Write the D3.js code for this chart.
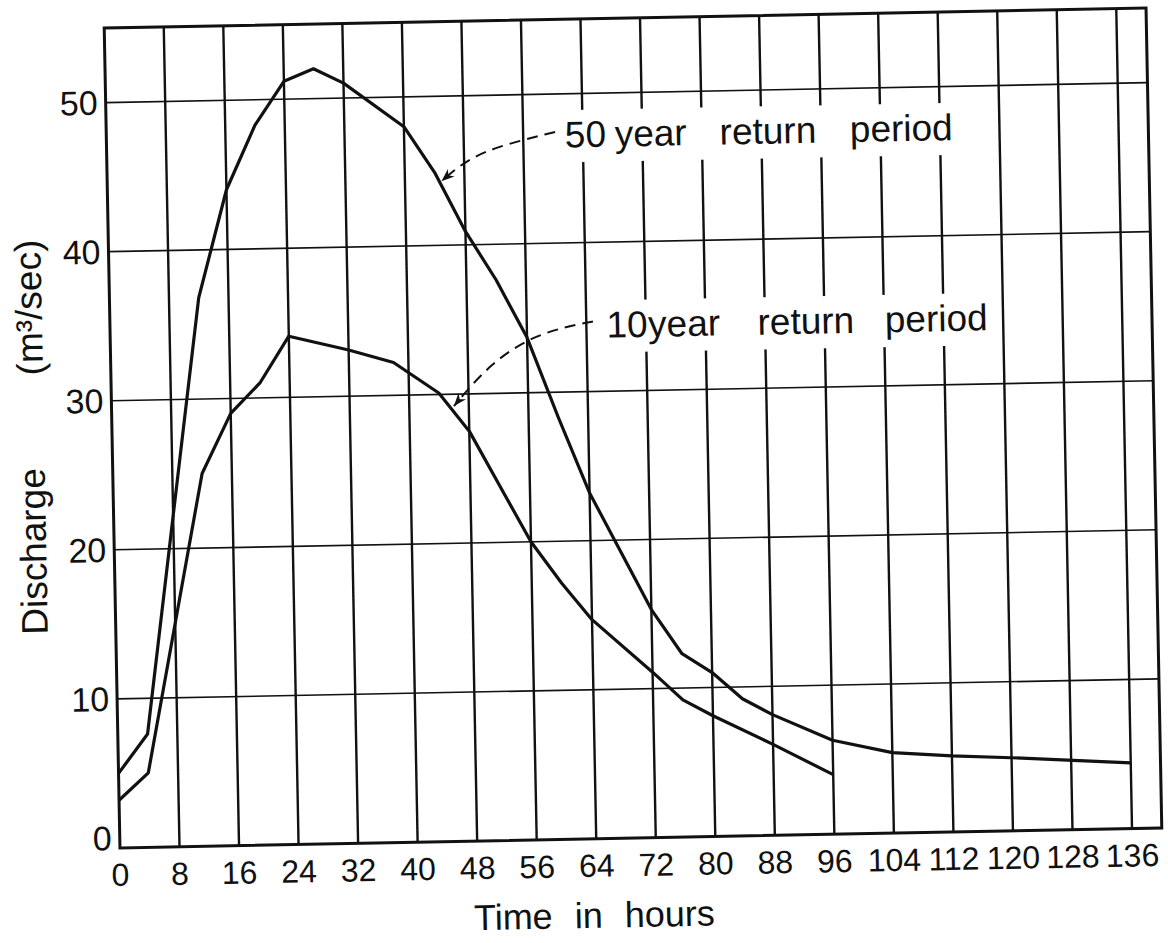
<!DOCTYPE html>
<html>
<head>
<meta charset="utf-8">
<script src="https://cdn.jsdelivr.net/npm/d3@7"></script>
<style>
  body { margin: 0; background: #fff; }
  text { font-family: "Liberation Sans", Arial, sans-serif; fill: #111; }
</style>
</head>
<body>
<svg id="chart" width="1168" height="943"></svg>
<script>
// values (hours, m3/sec)
const hours50 = [0, 4, 12, 16, 20, 24, 28, 32, 40, 44, 48, 52, 56, 60, 64, 72, 76, 80, 84, 88, 96, 104, 112, 120, 136]
const flow50 = [5, 7.6, 36.8, 44, 48.3, 51.2, 52, 51, 48, 44.9, 40.9, 37.6, 33.7, 28.3, 23.2, 15.3, 12.3, 11, 9.2, 8.1, 6.3, 5.4, 5.1, 4.9, 4.4]

const hours10 = [0, 4, 8, 12, 16, 20, 24, 32, 38, 44, 48, 56, 60, 64, 72, 76, 80, 88, 96]
const flow10 = [3.2, 5, 15, 25, 29, 31, 34.1, 33.1, 32.2, 30.1, 27.5, 20, 17.2, 14.7, 11.1, 9.2, 8.1, 6.1, 4]

const xTicks = d3.range(0, 137, 8)
const yTicks = [0, 10, 20, 30, 40, 50]

const plotLeft = 112, plotRight = 1154, plotTop = 18, plotBottom = 838

const x = d3.scaleLinear().domain([0, 140]).range([plotLeft, plotRight])
const y = d3.scaleLinear().domain([0, 55]).range([plotBottom, plotTop])

const svg = d3.select("#chart")

svg.append("defs").append("marker")
    .attr("id", "arrow")
    .attr("viewBox", "-14 -6 16 12")
    .attr("markerWidth", 16).attr("markerHeight", 12)
    .attr("markerUnits", "userSpaceOnUse")
    .attr("refX", 0).attr("refY", 0)
    .attr("orient", "auto")
  .append("path")
    .attr("d", "M0,0 L-13,-5 L-9,0 L-13,5 Z")
    .attr("fill", "#111")

// the scan is slightly tilted
const g = svg.append("g").attr("transform", "rotate(-1.1, 633, 428)")

// grid
g.append("g").selectAll("line")
    .data(yTicks.filter(d => d > 0))
    .join("line")
    .attr("x1", plotLeft).attr("x2", plotRight)
    .attr("y1", d => y(d)).attr("y2", d => y(d))
    .attr("stroke", "#111").attr("stroke-width", 1.6)

g.append("g").selectAll("line")
    .data(xTicks.filter(d => d > 0))
    .join("line")
    .attr("x1", d => x(d)).attr("x2", d => x(d))
    .attr("y1", plotTop).attr("y2", plotBottom)
    .attr("stroke", "#111").attr("stroke-width", 2.4)

// frame
g.append("rect")
    .attr("x", plotLeft).attr("y", plotTop)
    .attr("width", plotRight - plotLeft).attr("height", plotBottom - plotTop)
    .attr("fill", "none").attr("stroke", "#111").attr("stroke-width", 3)

// tick labels
g.append("g").selectAll("text")
    .data(xTicks)
    .join("text")
    .attr("x", d => x(d)).attr("y", plotBottom + 38)
    .attr("text-anchor", "middle")
    .attr("font-size", 32)
    .text(d => d)

g.append("g").selectAll("text")
    .data(yTicks)
    .join("text")
    .attr("x", plotLeft - 8).attr("y", d => y(d) + (d === 0 ? 2 : 12))
    .attr("text-anchor", "end")
    .attr("font-size", 34)
    .text(d => d)

// axis titles
g.append("text")
    .attr("x", 585).attr("y", 927)
    .attr("text-anchor", "middle")
    .attr("font-size", 36)
    .attr("word-spacing", 12)
    .text("Time in hours")

g.append("text")
    .attr("transform", "translate(44,540) rotate(-90)")
    .attr("text-anchor", "middle")
    .attr("font-size", 37)
    .text("Discharge")

g.append("text")
    .attr("transform", "translate(44,296) rotate(-90)")
    .attr("text-anchor", "middle")
    .attr("font-size", 37)
    .text("(m³/sec)")

// curves
const line = d3.line().x(d => x(d[0])).y(d => y(d[1]))
const series = [d3.zip(hours50, flow50), d3.zip(hours10, flow10)]
g.append("g").selectAll("path")
    .data(series)
    .join("path")
    .attr("d", line)
    .attr("fill", "none")
    .attr("stroke", "#111")
    .attr("stroke-width", 3.2)
    .attr("stroke-linejoin", "round")

// annotations: white box that breaks the grid, words, dashed leader with arrow
const notes = [
    { box: [57.6, 114.6, 48.9, 45.4], base: 46.4, words: [["50", 61.6], ["year", 68.3], ["return", 82.4], ["period", 99.9]],
      leader: [[60.3, 47.45], [51.9, 46.5], [47.8, 45.5], [44.9, 44.3]] },
    { box: [65.6, 118.9, 36.1, 32.6], base: 33.6, words: [["10", 66.7], ["year", 72.3], ["return", 87], ["period", 104.1]],
      leader: [[64.9, 34.7], [57.3, 34.0], [50.9, 32.0], [46.0, 29.2]] }
]

const ng = g.append("g")
notes.forEach(n => {
    ng.append("rect")
        .attr("x", x(n.box[0])).attr("y", y(n.box[2]))
        .attr("width", x(n.box[1]) - x(n.box[0]))
        .attr("height", y(n.box[3]) - y(n.box[2]))
        .attr("fill", "#fff")
    ng.selectAll(null)
        .data(n.words)
        .join("text")
        .attr("x", d => x(d[1])).attr("y", y(n.base))
        .attr("font-size", 37)
        .text(d => d[0])
    ng.append("path")
        .attr("d", d3.line().x(d => x(d[0])).y(d => y(d[1])).curve(d3.curveBasis)(n.leader))
        .attr("fill", "none")
        .attr("stroke", "#111")
        .attr("stroke-width", 2)
        .attr("stroke-dasharray", "11,7")
        .attr("marker-end", "url(#arrow)")
})
</script>
</body>
</html>
